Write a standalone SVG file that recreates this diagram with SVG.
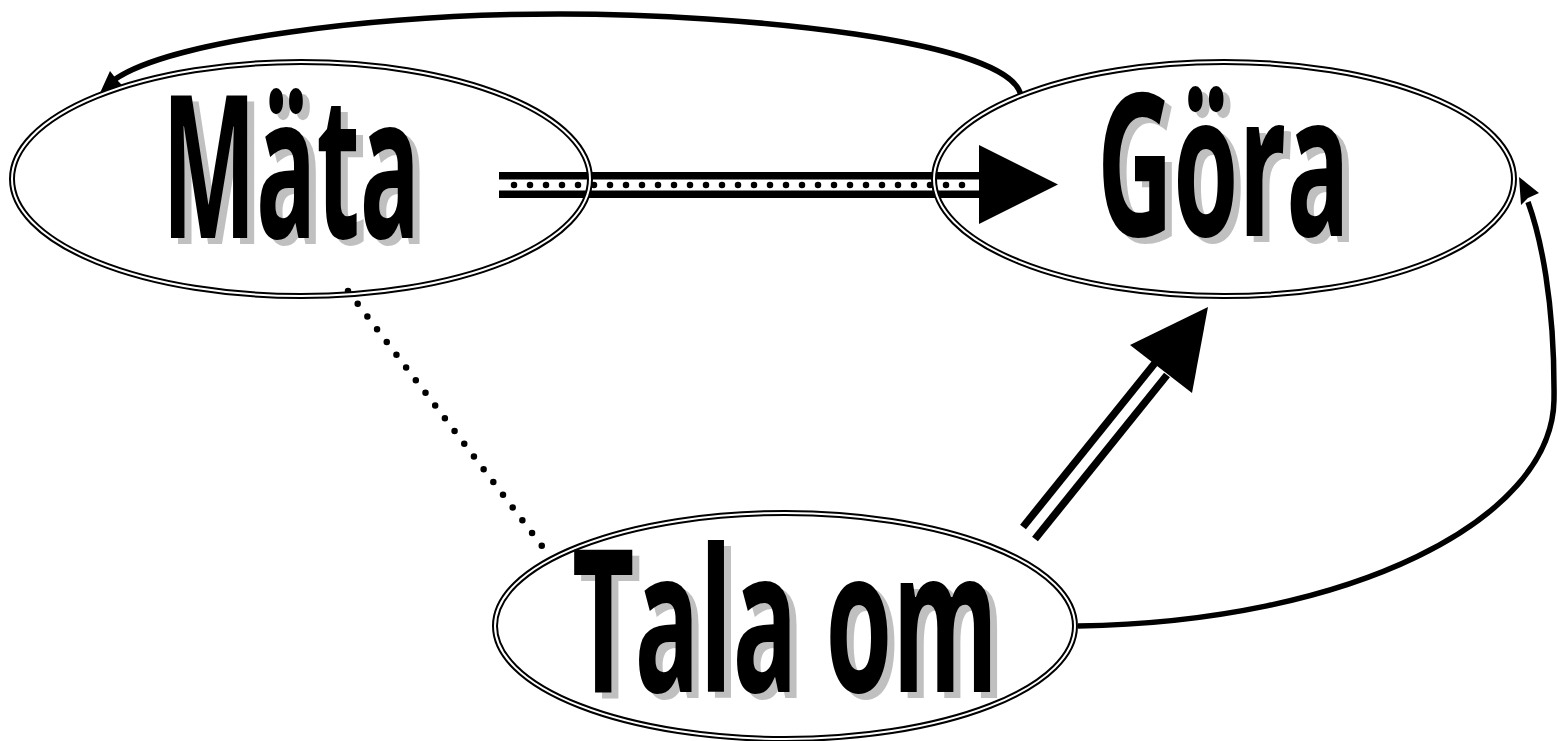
<svg xmlns="http://www.w3.org/2000/svg" width="1558" height="741" viewBox="0 0 1558 741">
<style>
.outer{fill:none;stroke:#000;stroke-width:6}
.inner{fill:none;stroke:#fff;stroke-width:2}
.lbl{font-family:"Open Sans","DejaVu Sans",sans-serif;font-weight:700;font-size:200px}
.sh{fill:#c0c0c0}
.fg{fill:#000}
.line{fill:none;stroke:#000}
</style>
<rect width="1558" height="741" fill="#fff"/>
<g id="connectors">
  <path class="line" d="M 1021,96 C 1012,40 740,14 560,14 C 380,14 170,40 114,80" stroke-width="5.5"/>
  <polygon points="100,93 110,71 117,80 123,86" fill="#000"/>
  <path class="line" d="M 1078,626 C 1350,622 1552,520 1554,400 C 1555,300 1540,235 1528,202" stroke-width="5.5"/>
  <polygon points="1519,177 1539,193 1528,198 1521,205" fill="#000"/>
  <path class="line" d="M 348,291 L 542,546" stroke-width="6.5" stroke-dasharray="0 16" stroke-linecap="round"/>
  <rect x="499" y="172" width="481" height="7.5" fill="#000"/>
  <rect x="499" y="190.5" width="481" height="7.5" fill="#000"/>
  <path class="line" d="M 514,185 L 970,185" stroke-width="6.5" stroke-dasharray="0 16" stroke-linecap="round"/>
  <polygon points="979,145 1058,184.5 979,224" fill="#000"/>
  <path class="line" d="M 1023,527 L 1155,363" stroke-width="7.5"/>
  <path class="line" d="M 1035,539 L 1167,375" stroke-width="7.5"/>
  <polygon points="1208,307 1130,345 1192,393" fill="#000"/>
</g>
<g id="node-mata">
  <ellipse class="outer" cx="301" cy="179" rx="289" ry="117"/>
  <ellipse class="inner" cx="301" cy="179" rx="289" ry="117"/>
  <text class="lbl sh" x="169" y="244" textLength="258" lengthAdjust="spacingAndGlyphs">Mäta</text>
  <text class="lbl fg" x="162" y="238" textLength="258" lengthAdjust="spacingAndGlyphs">Mäta</text>
</g>
<g id="node-gora">
  <ellipse class="outer" cx="1224" cy="179" rx="290" ry="117"/>
  <ellipse class="inner" cx="1224" cy="179" rx="290" ry="117"/>
  <text class="lbl sh" x="1104" y="242" textLength="253" lengthAdjust="spacingAndGlyphs">Göra</text>
  <text class="lbl fg" x="1097" y="236" textLength="253" lengthAdjust="spacingAndGlyphs">Göra</text>
</g>
<g id="node-talaom">
  <ellipse class="outer" cx="785" cy="626" rx="290" ry="113"/>
  <ellipse class="inner" cx="785" cy="626" rx="290" ry="113"/>
  <text class="lbl sh" x="579" y="698" textLength="426" lengthAdjust="spacingAndGlyphs">Tala om</text>
  <text class="lbl fg" x="572" y="692" textLength="426" lengthAdjust="spacingAndGlyphs">Tala om</text>
</g>
</svg>
